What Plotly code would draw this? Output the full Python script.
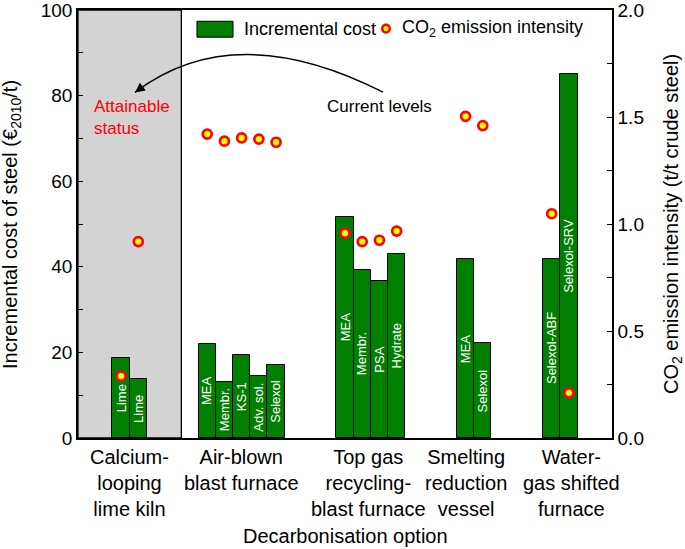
import plotly.graph_objects as go

# ---------------- data ----------------
group_labels = ["Calcium-<br>looping<br>lime kiln", "Air-blown<br>blast furnace",
                "Top gas<br>recycling-<br>blast furnace", "Smelting<br>reduction<br>vessel",
                "Water-<br>gas shifted<br>furnace"]
options = ["Lime", "Lime", "MEA", "Membr.", "KS-1", "Adv. sol.", "Selexol",
           "MEA", "Membr.", "PSA", "Hydrate", "MEA", "Selexol", "Selexol-ABF", "Selexol-SRV"]
option_slot = [2, 3, 7, 8, 9, 10, 11, 15, 16, 17, 18, 22, 23, 27, 28]
incremental_cost = [18.6, 13.7, 22.0, 13.2, 19.4, 14.6, 17.0,
                    51.7, 39.3, 36.8, 43.1, 41.8, 22.1, 41.9, 85.1]
co2_intensity = [0.289, 0.918, 1.420, 1.387, 1.402, 1.397, 1.382,
                 0.957, 0.918, 0.924, 0.967, 1.503, 1.460, 1.048, 0.211]
left_ticks = [0, 20, 40, 60, 80, 100]
right_ticks = [0.0, 0.5, 1.0, 1.5, 2.0]

# ---------------- layout helpers ----------------
group_label_x = [3.0, 9.5, 16.85, 22.5, 28.65]
n_slots = 31
FONT = "Liberation Sans, Arial, sans-serif"
GREEN = "#007f00"

x_centres = [s + 0.5 for s in option_slot]

fig = go.Figure()
fig.add_trace(go.Bar(
    x=x_centres, y=incremental_cost, width=1,
    marker=dict(color=GREEN, line=dict(color="black", width=1)),
    showlegend=False,
))
fig.add_trace(go.Scatter(
    x=x_centres, y=co2_intensity, mode="markers", yaxis="y2",
    marker=dict(size=9, color="#ffff00", line=dict(color="#ff0000", width=2.7)),
    showlegend=False,
))

axis_common = dict(showgrid=False, zeroline=False, showline=True, linecolor="black",
                   linewidth=1.5, ticks="inside", ticklen=5, tickwidth=1.3,
                   tickcolor="black", ticklabeloverflow="allow",
                   tickfont=dict(size=19, color="black", family=FONT))

fig.update_layout(
    width=685, height=549,
    margin=dict(l=78, r=73, t=8, b=111),
    paper_bgcolor="white", plot_bgcolor="white",
    font=dict(family=FONT, color="black"),
    bargap=0,
    xaxis=dict(range=[0, n_slots], showgrid=False, zeroline=False, showline=True,
               linecolor="black", linewidth=1.5, mirror=True, showticklabels=False,
               ticks=""),
    yaxis=dict(range=[0, 100], tickvals=left_ticks, automargin=False,
               minor=dict(dtick=10, ticks="inside", ticklen=5, tickcolor="black"),
               **axis_common),
    yaxis2=dict(range=[0, 2], overlaying="y", side="right", tickvals=right_ticks,
                tickformat=".1f", automargin=False,
                minor=dict(dtick=0.25, ticks="inside", ticklen=5, tickcolor="black"),
                **axis_common),
)

# shaded "attainable" region
fig.add_shape(type="rect", xref="x", yref="y", x0=0, x1=6, y0=0, y1=100,
              fillcolor="#d3d3d3", line=dict(color="black", width=1.3), layer="below")

# curved arrow
fig.add_shape(type="path", xref="x", yref="y",
              path="M 17.71,80.8 Q 9.11,98.4 3.31,80.75",
              line=dict(color="black", width=1.5))
fig.add_annotation(x=3.31, y=80.75, xref="x", yref="y", text="", showarrow=True,
                   ax=8, ay=-6, arrowhead=2, arrowsize=1.3, arrowwidth=1.5,
                   arrowcolor="black")

annots = []
# option labels inside bars (centred in each bar)
for xc, c, o in zip(x_centres, incremental_cost, options):
    annots.append(dict(x=xc, y=c / 2, xref="x", yref="y", text=o, showarrow=False,
                       textangle=-90, xanchor="center", yanchor="middle",
                       font=dict(size=13, color="white")))
# category labels
for gx, gl in zip(group_label_x, group_labels):
    annots.append(dict(x=gx, y=-0.015, xref="x", yref="paper", text=gl, showarrow=False,
                       xanchor="center", yanchor="top", font=dict(size=20)))
annots += [
    dict(x=0.5, y=-0.229, xref="paper", yref="paper", text="Decarbonisation option",
         showarrow=False, xanchor="center", yanchor="middle", font=dict(size=20)),
    dict(x=-0.1255, y=0.5, xref="paper", yref="paper", textangle=-90,
         text="Incremental cost of steel (€<sub>2010</sub>/t)", showarrow=False,
         xanchor="center", yanchor="middle", font=dict(size=20)),
    dict(x=1.1124, y=0.5, xref="paper", yref="paper", textangle=-90,
         text="CO<sub>2</sub> emission intensity (t/t crude steel)", showarrow=False,
         xanchor="center", yanchor="middle", font=dict(size=20)),
    dict(x=17.5, y=77.4, xref="x", yref="y", text="Current levels", showarrow=False,
         xanchor="center", yanchor="middle", font=dict(size=17)),
    dict(x=0.8, y=75.0, xref="x", yref="y", text="Attainable<br>status", showarrow=False,
         xanchor="left", yanchor="middle", align="left", font=dict(size=17, color="#ff0000")),
    # legend texts
    dict(x=0.3066, y=0.9565, xref="paper", yref="paper", text="Incremental cost",
         showarrow=False, xanchor="left", yanchor="middle", font=dict(size=18)),
    dict(x=0.603, y=0.9565, xref="paper", yref="paper", text="CO<sub>2</sub> emission intensity",
         showarrow=False, xanchor="left", yanchor="middle", font=dict(size=18)),
]
for a in annots:
    fig.add_annotation(**a)

# legend swatches
fig.add_shape(type="rect", xref="paper", yref="paper", x0=0.2228, x1=0.2903,
              y0=0.9365, y1=0.9737, fillcolor=GREEN, line=dict(color="black", width=1))
fig.add_shape(type="circle", xref="paper", yref="paper", xsizemode="pixel", ysizemode="pixel",
              xanchor=0.5768, yanchor=0.9565, x0=-3.8, x1=3.8, y0=-3.8, y1=3.8,
              fillcolor="#ffff00", line=dict(color="#ff0000", width=2.5))

fig.write_html("out.html", config={"displayModeBar": False},
               post_script="document.body.style.margin='0';document.body.style.overflow='hidden';")
